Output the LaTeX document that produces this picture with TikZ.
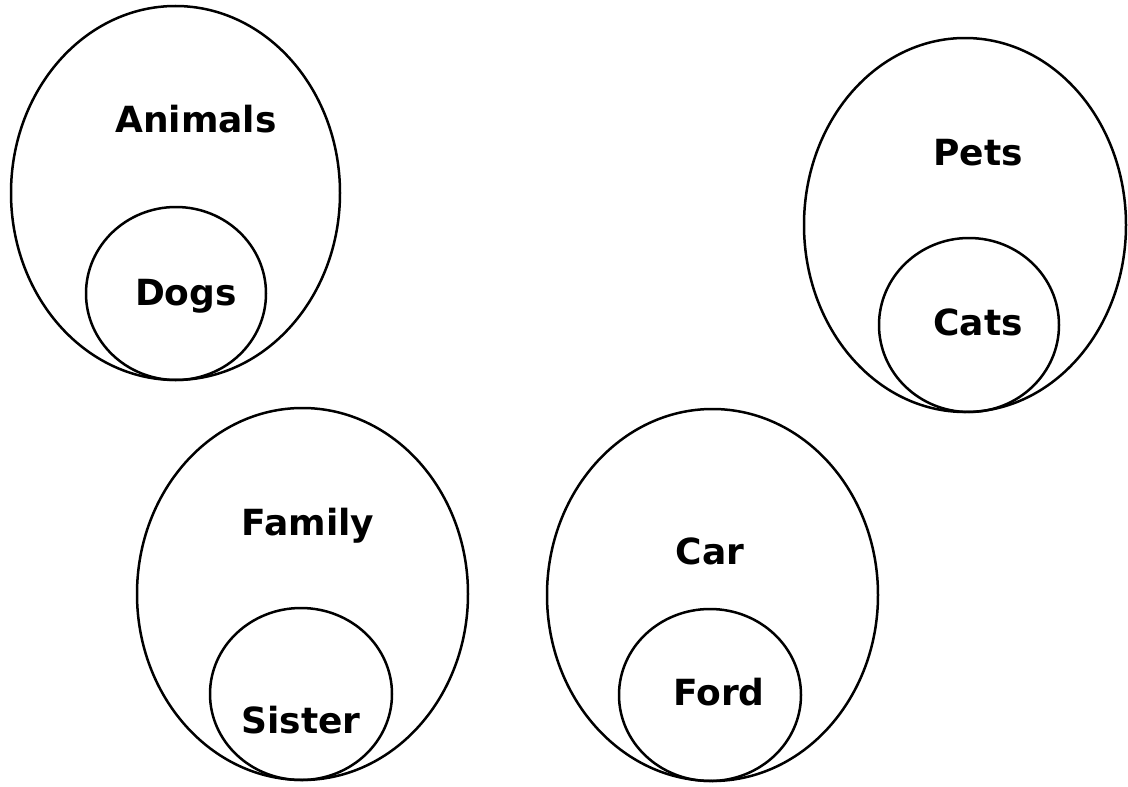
\documentclass[tikz,border=0pt]{standalone}
\usepackage{fontspec}
\setmainfont{DejaVu Sans}

\begin{document}
\begin{tikzpicture}[
  x=1pt, y=-1pt, line width=2.5pt,
  setname/.style={anchor=base, font=\bfseries\fontsize{36}{36}\selectfont},
]
  \useasboundingbox (0,0) rectangle (1128,787);

  % centres of the outer sets
  \coordinate (Animals) at (175.5,193);
  \coordinate (Pets)    at (965,225);
  \coordinate (Family)  at (302.5,594);
  \coordinate (Car)     at (712.5,595);

  % centres of the inner sets (touching the outer one at the bottom)
  \coordinate (Dogs)   at (176,293.5);
  \coordinate (Cats)   at (969,325);
  \coordinate (Sister) at (301,694);
  \coordinate (Ford)   at (710,695);

  % outer ellipses
  \draw (Animals) ellipse [x radius=164.5, y radius=187];
  \draw (Pets)    ellipse [x radius=161,   y radius=187];
  \draw (Family)  ellipse [x radius=165.5, y radius=186];
  \draw (Car)     ellipse [x radius=165.5, y radius=186];

  % inner circles
  \draw (Dogs)   ellipse [x radius=90, y radius=86.5];
  \draw (Cats)   ellipse [x radius=90, y radius=87];
  \draw (Sister) ellipse [x radius=91, y radius=86];
  \draw (Ford)   ellipse [x radius=91, y radius=86];

  % names
  \node[setname] (tAnimals) at (196,132) {Animals};
  \node[setname] (tDogs)    at (186,305) {Dogs};
  \node[setname] (tPets)    at (978,165) {Pets};
  \node[setname] (tCats)    at (978,335) {Cats};
  \node[setname] (tFamily)  at (308,535) {Family};
  \node[setname] (tSister)  at (301,733) {Sister};
  \node[setname] (tCar)     at (710,564) {Car};
  \node[setname] (tFord)    at (719,705) {Ford};
\end{tikzpicture}
\end{document}
